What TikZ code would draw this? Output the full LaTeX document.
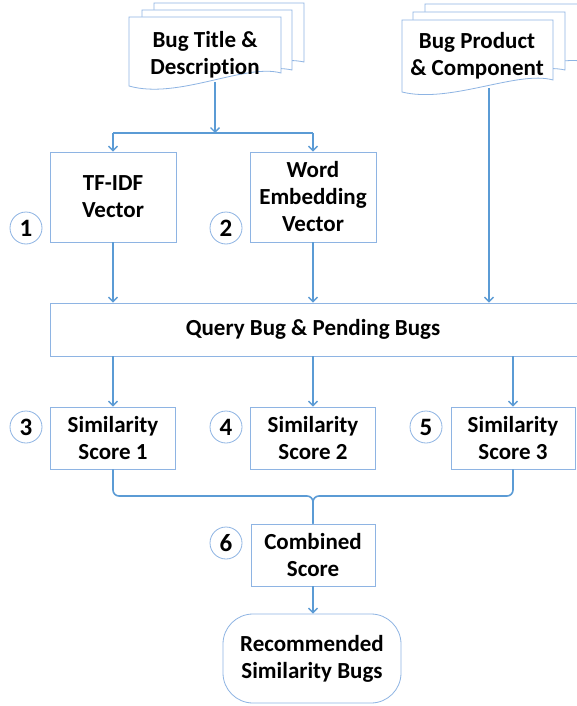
\documentclass[tikz,border=0pt]{standalone}
\usepackage{fontspec}
\setmainfont{Carlito}[Ligatures=NoCommon]
\usetikzlibrary{arrows.meta}
\definecolor{boxline}{HTML}{8EB4E3}
\definecolor{arrline}{HTML}{5B9BD5}
\begin{document}
\begin{tikzpicture}[x=1pt,y=-1pt,
  txt/.style={font=\fontsize{23}{27}\selectfont\bfseries, align=center, text=black},
  boxnode/.style={txt, draw=boxline, line width=0.8pt, fill=white, inner sep=0pt},
  numc/.style={circle, draw=boxline, line width=0.8pt, minimum size=32pt, inner sep=0pt,
    font=\fontsize{25}{25}\selectfont\bfseries},
  page/.style={draw=boxline, line width=0.8pt, fill=white},
  conn/.style={draw=arrline, line width=1.6pt},
  arr/.style={conn, -{Straight Barb[length=4.5pt,width=9pt,line width=1.4pt]}}
]
\useasboundingbox (0,0) rectangle (576,706);
\fill[white] (0,0) rectangle (576,706);

% document stack 1
\path[page] (154,3) -- (304,3) -- (304,62) .. controls (270,54) and (200,82) .. (154,70) -- cycle;
\path[page] (142,10) -- (292,10) -- (292,70) .. controls (258,62) and (188,90) .. (142,78) -- cycle;
\path[page] (129,17) -- (281,17) -- (281,73) .. controls (245,63) and (178,100) .. (129,86) -- cycle;
\node[txt] (doc1) at (205,55) {Bug Title \&\\Description};
\coordinate (doc1b) at (215,82);

% document stack 2
\path[page] (425,4) -- (590,4) -- (590,62) .. controls (550,54) and (480,82) .. (425,70) -- cycle;
\path[page] (413,12) -- (565,12) -- (565,70) .. controls (530,62) and (460,90) .. (413,80) -- cycle;
\path[page] (402,20) -- (553,20) -- (553,80) .. controls (518,70) and (450,104) .. (402,92) -- cycle;
\node[txt] (doc2) at (477,56) {Bug Product\\\& Component};
\coordinate (doc2b) at (489,88);

% vectors
\node[boxnode, minimum width=126pt, minimum height=90pt] (tfidf) at (113,197) {TF-IDF\\Vector};
\node[boxnode, minimum width=126pt, minimum height=90pt] (we) at (313,197) {Word\\Embedding\\Vector};
\node[numc] (n1) at (26,228) {1};
\node[numc] (n2) at (226,228) {2};

% query
\node[boxnode, minimum width=570pt, minimum height=53pt] (query) at (335,329.5) {};
\node[txt] (qtext) at (313,329.5) {Query Bug \& Pending Bugs};

% similarity
\node[boxnode, minimum width=125pt, minimum height=62pt] (s1) at (113,438) {Similarity\\Score 1};
\node[boxnode, minimum width=125pt, minimum height=62pt] (s2) at (313,438) {Similarity\\Score 2};
\node[boxnode, minimum width=124pt, minimum height=62pt] (s3) at (513,438) {Similarity\\Score 3};
\node[numc] (n3) at (26,427) {3};
\node[numc] (n4) at (226,427) {4};
\node[numc] (n5) at (426,427) {5};

% combined
\node[boxnode, minimum width=124pt, minimum height=62pt] (comb) at (313,555) {Combined\\Score};
\node[numc] (n6) at (226,543) {6};

% result
\node[boxnode, minimum width=178pt, minimum height=89pt, rounded corners=30pt] (res) at (312,658.5) {Recommended\\Similarity Bugs};

% connectors
\coordinate (j1) at (215,133);
\coordinate (jl) at (113,133);
\coordinate (jr) at (313,133);
\draw[arr] (doc1b) -- (j1);
\draw[conn] (jl) -- (jr);
\draw[arr] (jl) -- (tfidf.north);
\draw[arr] (jr) -- (we.north);
\draw[arr] (tfidf.south) -- (tfidf.south |- query.north);
\draw[arr] (we.south) -- (we.south |- query.north);
\draw[arr] (doc2b) -- (doc2b |- query.north);
\draw[arr] (s1.north |- query.south) -- (s1.north);
\draw[arr] (s2.north |- query.south) -- (s2.north);
\draw[arr] (s3.north |- query.south) -- (s3.north);
\coordinate (bc) at (313,496);
\draw[conn, rounded corners=6pt] (s1.south) |- (bc) -- (comb.north);
\draw[conn, rounded corners=6pt] (s3.south) |- (bc) -- (comb.north);
\draw[arr] (comb.south) -- (comb.south |- res.north);
\end{tikzpicture}
\end{document}
